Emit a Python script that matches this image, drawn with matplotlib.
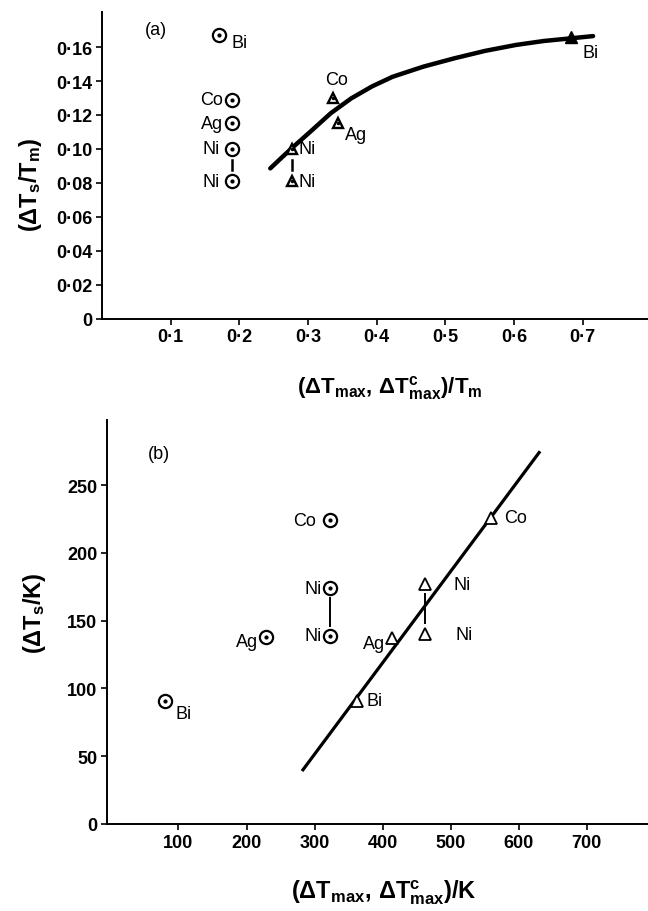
import matplotlib
matplotlib.use("Agg")
import matplotlib.pyplot as plt
from matplotlib.ticker import FixedLocator, FixedFormatter

FONT = ["Liberation Sans Narrow", "Liberation Sans", "DejaVu Sans"]
plt.rcParams["font.family"] = FONT
plt.rcParams["mathtext.fontset"] = "custom"
plt.rcParams["mathtext.rm"] = "Liberation Sans"
plt.rcParams["mathtext.it"] = "Liberation Sans"
plt.rcParams["mathtext.bf"] = "Liberation Sans:bold"

# ---- panel (a): reduced undercooling ----
a_circ_x = [0.17, 0.19, 0.19, 0.19, 0.19]
a_circ_y = [0.167, 0.129, 0.115, 0.100, 0.081]
a_circ_lab = ["Bi", "Co", "Ag", "Ni", "Ni"]
a_tri_x = [0.336, 0.344, 0.276, 0.276]
a_tri_y = [0.130, 0.115, 0.100, 0.081]
a_tri_lab = ["Co", "Ag", "Ni", "Ni"]
a_bi_x, a_bi_y = [0.683], [0.166]
a_curve_x = [0.245, 0.262, 0.276, 0.303, 0.333, 0.363, 0.393, 0.423, 0.468,
             0.513, 0.558, 0.603, 0.643, 0.683, 0.715]
a_curve_y = [0.0885, 0.0950, 0.1003, 0.1100, 0.1210, 0.1298, 0.1368, 0.1425,
             0.1485, 0.1534, 0.1578, 0.1613, 0.1636, 0.1652, 0.1665]
a_xticks = [0.1, 0.2, 0.3, 0.4, 0.5, 0.6, 0.7]
a_yticks = [0, 0.02, 0.04, 0.06, 0.08, 0.10, 0.12, 0.14, 0.16]
a_ytick_lab = ["0", "0·02", "0·04", "0·06", "0·08", "0·10", "0·12", "0·14", "0·16"]

# ---- panel (b): absolute undercooling (K) ----
b_circ_x = [80, 229, 322, 322, 322]
b_circ_y = [91, 138, 224, 174, 139]
b_circ_lab = ["Bi", "Ag", "Co", "Ni", "Ni"]
b_tri_x = [363, 414, 463, 463, 560]
b_tri_y = [91, 137, 177, 140, 226]
b_tri_lab = ["Bi", "Ag", "Ni", "Ni", "Co"]
b_line_x = [283, 630]
b_line_y = [40, 274]
b_xticks = [100, 200, 300, 400, 500, 600, 700]
b_yticks = [0, 50, 100, 150, 200, 250]

# label offsets in pixels (dx, dy, ha)
a_circ_off = [(13, -7, "left"), (-9, 0, "right"), (-9, 0, "right"),
              (-13, 0, "right"), (-13, 0, "right")]
a_tri_off = [(4, 19, "center"), (7, -11, "left"), (7, 0, "left"), (7, 0, "left")]
b_circ_off = [(11, -13, "left"), (-8, -5, "right"), (-14, 0, "right"),
              (-8, 0, "right"), (-8, 0, "right")]
b_tri_off = [(9, 0, "left"), (-7, -5, "right"), (28, 0, "left"),
             (30, 0, "left"), (13, 0, "left")]

TICKFONT = dict(family=FONT, weight="bold", size=13)
LABFONT = dict(family=FONT, size=13)

fig = plt.figure(figsize=(6.48, 9.12), dpi=100)
ax1 = fig.add_axes([102 / 648, 1 - 319.5 / 912, 546 / 648, 307 / 912])
ax2 = fig.add_axes([107 / 648, 1 - 825 / 912, 541 / 648, 404 / 912])


def style(ax):
    for s in ("top", "right"):
        ax.spines[s].set_visible(False)
    for s in ("left", "bottom"):
        ax.spines[s].set_linewidth(1.4)
    ax.tick_params(direction="out", length=4, width=1.2, pad=3)
    for t in ax.get_xticklabels() + ax.get_yticklabels():
        t.set(**TICKFONT)


def circles(ax, xs, ys):
    ax.plot(xs, ys, "o", ms=9.5, mfc="none", mec="black", mew=1.6, ls="none", zorder=3)
    ax.plot(xs, ys, "o", ms=2, color="black", ls="none", zorder=3)


def put_labels(ax, xs, ys, labs, offs):
    for x, y, s, (dx, dy, ha) in zip(xs, ys, labs, offs):
        ax.annotate(s, (x, y), xytext=(dx, dy), textcoords="offset pixels",
                    ha=ha, va="center", **LABFONT)


# (a)
ax1.plot(a_curve_x, a_curve_y, color="black", lw=3.2, solid_capstyle="round",
         solid_joinstyle="round", zorder=2)
circles(ax1, a_circ_x, a_circ_y)
ax1.plot(a_tri_x, a_tri_y, "^", ms=7.5, mfc="white", mec="black", mew=1.7, ls="none", zorder=3)
ax1.plot(a_tri_x, a_tri_y, "o", ms=1.5, color="black", ls="none", zorder=4)
ax1.plot(a_bi_x, a_bi_y, "^", ms=8.5, color="black", ls="none", zorder=3)
ax1.plot([a_circ_x[3], a_circ_x[4]], [0.0935, 0.0875], color="black", lw=1.8)
ax1.plot([a_tri_x[2], a_tri_x[3]], [0.0935, 0.0875], color="black", lw=1.8)
put_labels(ax1, a_circ_x, a_circ_y, a_circ_lab, a_circ_off)
put_labels(ax1, a_tri_x, a_tri_y, a_tri_lab, a_tri_off)
put_labels(ax1, a_bi_x, a_bi_y, ["Bi"], [(11, -16, "left")])
ax1.text(0.063, 0.1705, "(a)", ha="left", va="center", **LABFONT)
ax1.set_xlim(0, 0.795)
ax1.set_ylim(0, 0.181)
ax1.xaxis.set_major_locator(FixedLocator(a_xticks))
ax1.xaxis.set_major_formatter(FixedFormatter([f"{v:.1f}".replace(".", "·") for v in a_xticks]))
ax1.yaxis.set_major_locator(FixedLocator(a_yticks))
ax1.yaxis.set_major_formatter(FixedFormatter(a_ytick_lab))
style(ax1)

# (b)
ax2.plot(b_line_x, b_line_y, color="black", lw=2.3, zorder=2)
circles(ax2, b_circ_x, b_circ_y)
ax2.plot(b_tri_x, b_tri_y, "^", ms=9, mfc="white", mec="black", mew=1.3, ls="none", zorder=3)
ax2.plot([b_circ_x[3], b_circ_x[4]], [167, 146], color="black", lw=1.4)
ax2.plot([b_tri_x[2], b_tri_x[3]], [170, 148], color="black", lw=1.4)
put_labels(ax2, b_circ_x, b_circ_y, b_circ_lab, b_circ_off)
put_labels(ax2, b_tri_x, b_tri_y, b_tri_lab, b_tri_off)
ax2.text(55, 273, "(b)", ha="left", va="center", **LABFONT)
ax2.set_xlim(-5, 790)
ax2.set_ylim(0, 298)
ax2.xaxis.set_major_locator(FixedLocator(b_xticks))
ax2.xaxis.set_major_formatter(FixedFormatter([str(v) for v in b_xticks]))
ax2.yaxis.set_major_locator(FixedLocator(b_yticks))
ax2.yaxis.set_major_formatter(FixedFormatter([str(v) for v in b_yticks]))
style(ax2)

AXFONT = dict(size=17, ha="center", va="center")
fig.text(30 / 648, 1 - 185 / 912, r"$\mathbf{(\Delta T_{s}/T_{m})}$", rotation=90, **AXFONT)
fig.text(390 / 648, 1 - 388 / 912, r"$\mathbf{(\Delta T_{max},\,\Delta T^{c}_{max})/T_{m}}$",
         **dict(AXFONT, size=16))
fig.text(35 / 648, 1 - 613 / 912, r"$\mathbf{(\Delta T_{s}/K)}$", rotation=90, **AXFONT)
fig.text(384 / 648, 1 - 893 / 912, r"$\mathbf{(\Delta T_{max},\,\Delta T^{c}_{max})/K}$", **AXFONT)

fig.savefig("out.png", dpi=100)
